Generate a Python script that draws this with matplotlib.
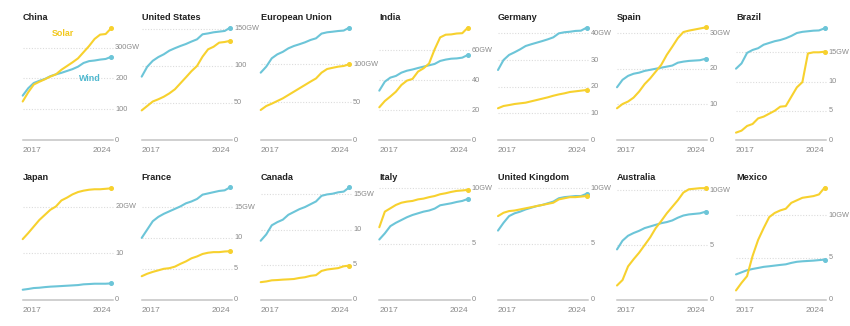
import numpy as np
import matplotlib
matplotlib.use('Agg')
import matplotlib.pyplot as plt

plt.rcParams['font.family'] = ['Liberation Sans', 'DejaVu Sans']

# half-year steps, 2017 .. end of 2024
years = [2017 + 0.5 * i for i in range(17)]

countries = ['China', 'United States', 'European Union', 'India', 'Germany', 'Spain', 'Brazil',
             'Japan', 'France', 'Canada', 'Italy', 'United Kingdom', 'Australia', 'Mexico']

solar = {
    'China': [125, 155, 180, 189, 197, 206, 213, 228, 240, 252, 265, 285, 305, 328, 342, 344, 363],
    'United States': [40, 46, 52, 55, 58.5, 63, 68.5, 76.6, 84.7, 93, 100, 112.6, 122.5, 126, 131.5, 132.4, 134],
    'European Union': [39.5, 44.7, 47.8, 51.3, 54.8, 59.2, 63.6, 68, 72.4, 76.8, 81, 88.6, 93.4, 95, 96.5, 97.4, 99.6],
    'India': [21.8, 26, 29, 32.2, 36.7, 39.6, 40.7, 45.6, 47.8, 51, 60.4, 68.4, 70.2, 70.4, 71, 71.2, 74.9],
    'Germany': [11.9, 12.75, 13.1, 13.5, 13.75, 14, 14.5, 15, 15.5, 16, 16.6, 17.1, 17.5, 18, 18.25, 18.5, 18.75],
    'Spain': [8.9, 10.1, 10.8, 11.9, 13.6, 15.7, 17.3, 19.2, 21.1, 23.9, 26.2, 28.6, 30.3, 30.7, 31, 31.3, 31.6],
    'Brazil': [1.26, 1.6, 2.4, 2.74, 3.7, 4, 4.5, 5, 5.7, 5.8, 7.4, 9, 9.9, 14.8, 15, 15, 15.1],
    'Japan': [13, 14.3, 15.7, 17.1, 18.2, 19.3, 20, 21.3, 21.9, 22.6, 23.1, 23.4, 23.6, 23.7, 23.7, 23.8, 23.9],
    'France': [3.8, 4.2, 4.5, 4.75, 5, 5.1, 5.35, 5.8, 6.2, 6.7, 7, 7.4, 7.6, 7.7, 7.7, 7.8, 7.85],
    'Canada': [2.5, 2.6, 2.76, 2.8, 2.86, 2.9, 2.95, 3.1, 3.2, 3.4, 3.5, 4.1, 4.3, 4.4, 4.5, 4.76, 4.86],
    'Italy': [6.5, 7.9, 8.2, 8.5, 8.7, 8.8, 8.86, 9, 9.07, 9.2, 9.3, 9.46, 9.55, 9.67, 9.76, 9.8, 9.85],
    'United Kingdom': [7.5, 7.8, 7.95, 8, 8.1, 8.2, 8.3, 8.4, 8.5, 8.6, 8.7, 9, 9.1, 9.2, 9.2, 9.25, 9.3],
    'Australia': [1.3, 1.8, 3.05, 3.7, 4.3, 5, 5.7, 6.55, 7.2, 7.9, 8.5, 9.1, 9.8, 10.1, 10.15, 10.2, 10.2],
    'Mexico': [1.1, 2, 2.8, 5.2, 7.1, 8.5, 9.8, 10.3, 10.6, 10.8, 11.5, 11.8, 12.1, 12.2, 12.3, 12.5, 13.3],
}

wind = {
    'China': [144, 168, 185, 192, 198, 207, 213, 218, 224, 230, 238, 250, 256, 258, 261, 263, 270],
    'United States': [85.6, 99, 107, 112, 115.8, 120.7, 124, 127, 129.7, 133, 136, 142.8, 144, 145.5, 146.4, 147.3, 151.8],
    'European Union': [88.6, 96.5, 107.5, 112.7, 116, 120.6, 123.7, 126, 128.5, 131.6, 133.8, 140, 141.7, 142.5, 143.4, 144, 147.8],
    'India': [32.9, 38.9, 41.6, 42.7, 44.9, 46.2, 47, 48, 48.9, 49.8, 50.7, 52.7, 53.6, 54.2, 54.4, 54.9, 56.7],
    'Germany': [26.25, 30, 31.9, 32.9, 34, 35.25, 35.9, 36.5, 37.1, 37.75, 38.5, 40, 40.4, 40.6, 40.9, 41, 42.1],
    'Spain': [14.8, 16.9, 18, 18.6, 18.9, 19.4, 19.7, 20, 20.3, 20.6, 20.9, 21.7, 22, 22.2, 22.3, 22.4, 22.8],
    'Brazil': [12.2, 13.1, 14.9, 15.4, 15.7, 16.3, 16.6, 16.9, 17.1, 17.4, 17.8, 18.3, 18.5, 18.6, 18.7, 18.74, 19.1],
    'Japan': [2.14, 2.3, 2.5, 2.57, 2.7, 2.8, 2.86, 2.93, 3, 3.07, 3.14, 3.3, 3.36, 3.43, 3.43, 3.43, 3.5],
    'France': [10, 11.35, 12.7, 13.4, 13.9, 14.3, 14.7, 15.1, 15.6, 15.9, 16.3, 17, 17.2, 17.4, 17.6, 17.7, 18.2],
    'Canada': [8.4, 9.3, 10.6, 11.05, 11.4, 12.1, 12.5, 12.9, 13.2, 13.6, 14, 14.8, 15, 15.1, 15.3, 15.4, 16],
    'Italy': [5.4, 5.95, 6.6, 6.9, 7.15, 7.4, 7.6, 7.75, 7.9, 8, 8.17, 8.47, 8.56, 8.65, 8.77, 8.86, 9.04],
    'United Kingdom': [6.2, 6.9, 7.5, 7.75, 7.9, 8.1, 8.25, 8.4, 8.5, 8.65, 8.8, 9.1, 9.2, 9.25, 9.3, 9.3, 9.5],
    'Australia': [4.6, 5.4, 5.85, 6.1, 6.3, 6.55, 6.7, 6.85, 7, 7.1, 7.25, 7.5, 7.7, 7.8, 7.85, 7.9, 8.05],
    'Mexico': [3, 3.25, 3.5, 3.65, 3.77, 3.9, 3.97, 4.05, 4.13, 4.2, 4.37, 4.5, 4.56, 4.6, 4.64, 4.7, 4.76],
}

ticks = {
    'China': [100, 200, 300], 'United States': [50, 100, 150], 'European Union': [50, 100],
    'India': [20, 40, 60], 'Germany': [10, 20, 30, 40], 'Spain': [10, 20, 30], 'Brazil': [5, 10, 15],
    'Japan': [10, 20], 'France': [5, 10, 15], 'Canada': [5, 10, 15], 'Italy': [5, 10],
    'United Kingdom': [5, 10], 'Australia': [5, 10], 'Mexico': [5, 10],
}

ymax = {
    'China': 370, 'United States': 154, 'European Union': 150, 'India': 76, 'Germany': 42.75,
    'Spain': 32, 'Brazil': 19.5, 'Japan': 24.4, 'France': 18.4, 'Canada': 16.2, 'Italy': 10.2,
    'United Kingdom': 10.2, 'Australia': 10.4, 'Mexico': 13.5,
}

SOLAR = '#f7d12e'
WIND = '#6cc5d8'
GRID = '#dcdcdc'
TXT = '#8a8a8a'

W, H = 850, 326
fig = plt.figure(figsize=(8.5, 3.26), dpi=100)

lefts = [22.7, 141.7, 260.7, 379.3, 498, 617, 736]
for k, c in enumerate(countries):
    row, col = divmod(k, 7)
    x0 = lefts[col]
    if row == 0:
        top, bot = 26, 140
    else:
        top, bot = 186, 299.7
    ax = fig.add_axes([x0 / W, 1 - bot / H, 88.5 / W, (bot - top) / H])
    ax.patch.set_alpha(0)
    ax.set_xlim(years[0], years[-1])
    ax.set_ylim(0, ymax[c])
    for s in ax.spines.values():
        s.set_visible(False)

    # grid lines running out towards the labels
    for t in ticks[c]:
        ax.plot([0, 1.02], [t, t], transform=ax.get_yaxis_transform(), color=GRID,
                lw=0.8, ls=(0, (1, 1.5)), clip_on=False, zorder=0)
    ax.plot([0, 1.02], [0, 0], transform=ax.get_yaxis_transform(), color='#c4c4c4',
            lw=1.1, clip_on=False, zorder=1)

    ax.plot(years, wind[c], color=WIND, lw=1.5, solid_capstyle='round', clip_on=False, zorder=3)
    ax.plot(years, solar[c], color=SOLAR, lw=1.5, solid_capstyle='round', clip_on=False, zorder=3)
    ax.plot(years[-1], wind[c][-1], 'o', color=WIND, ms=2.6, clip_on=False, zorder=4)
    ax.plot(years[-1], solar[c][-1], 'o', color=SOLAR, ms=2.6, clip_on=False, zorder=4)

    ax.set_xticks([])
    ax.set_yticks([])
    labels = [0] + ticks[c]
    for i, t in enumerate(labels):
        s = str(t) + ('GW' if i == len(labels) - 1 else '')
        ax.text(1.045, t, s, transform=ax.get_yaxis_transform(), ha='left', va='center',
                fontsize=5.3, color=TXT)

    ax.text(0, -0.06, '2017', transform=ax.transAxes, ha='left', va='top', fontsize=6, color=TXT)
    ax.text(1, -0.06, '2024', transform=ax.transAxes, ha='right', va='top', fontsize=6, color=TXT)
    ax.text(0, 1.0 + (8.5 / 114), c, transform=ax.transAxes, ha='left', va='center',
            fontsize=6.6, fontweight='bold', color='#222222')

    if c == 'China':
        ax.text(2019.65, 347, 'Solar', color='#f2c81e', fontsize=6.4, fontweight='bold', ha='left', va='center')
        ax.text(2022.1, 198, 'Wind', color='#4fb8cf', fontsize=6.4, fontweight='bold', ha='left', va='center')

fig.savefig('out.png', dpi=100, facecolor='white')
